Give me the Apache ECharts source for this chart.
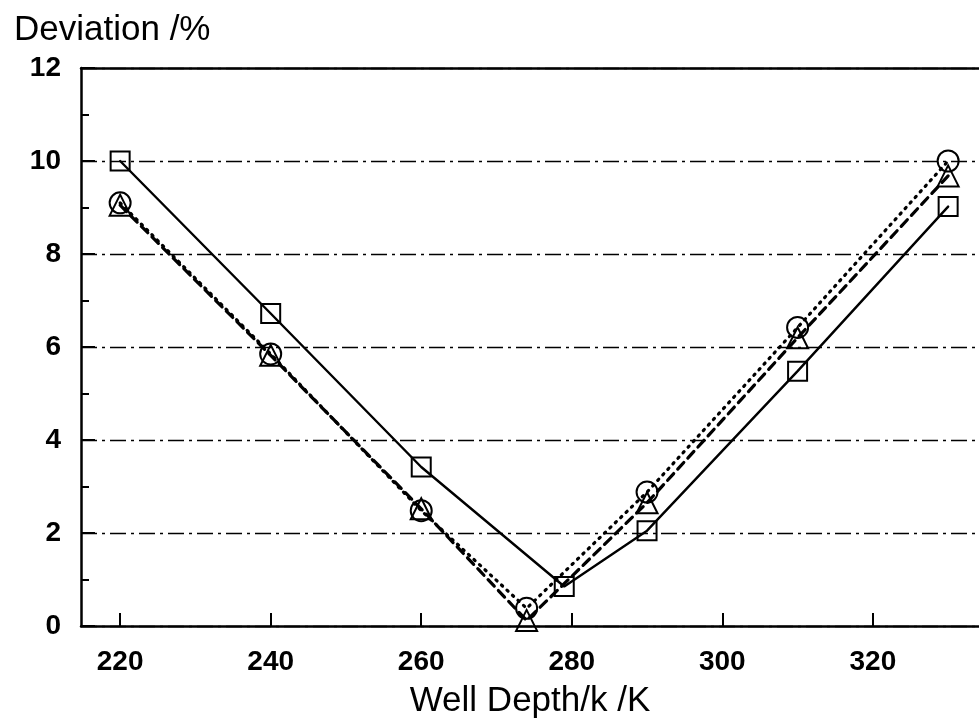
<!DOCTYPE html>
<html>
<head>
<meta charset="utf-8">
<script src="https://cdn.jsdelivr.net/npm/echarts@6/dist/echarts.min.js"></script>
<style>html,body{margin:0;padding:0;background:#fff;}#c{width:979px;height:724px;}</style>
</head>
<body>
<div id="c"></div>
<script>
var xTicks = [220, 240, 260, 280, 300, 320];
var squareX = [220, 240, 260, 279, 290, 310, 330];
var squareY = [10.0, 6.72, 3.42, 0.85, 2.05, 5.48, 9.02];
var circleX = [220, 240, 260, 274, 290, 310, 330];
var circleY = [9.1, 5.85, 2.48, 0.38, 2.88, 6.42, 10.0];
var triangleX = [220, 240, 260, 274, 290, 310, 330];
var triangleY = [9.05, 5.82, 2.52, 0.12, 2.65, 6.2, 9.68];

function pairs(xs, ys) { return xs.map(function (x, i) { return [x, ys[i]]; }); }

var font = '"Liberation Sans", Arial, Helvetica, sans-serif';
var chart = echarts.init(document.getElementById('c'), null, {renderer: 'canvas'});

function mk(name, xs, ys, sym, size, lineType, width) {
  return {
    name: name, type: 'line', data: pairs(xs, ys),
    symbol: sym, symbolSize: size,
    itemStyle: {color: 'rgba(0,0,0,0)', borderColor: '#000', borderWidth: 2},
    lineStyle: {color: '#000', width: width, type: lineType, cap: 'round'},
    emphasis: {disabled: true}, animation: false, z: 3
  };
}

chart.setOption({
  backgroundColor: '#fff',
  animation: false,
  title: {
    text: 'Deviation /%', left: 9, top: 8,
    textStyle: {fontFamily: font, fontSize: 35, fontWeight: 'normal', color: '#000'}
  },
  grid: {left: 81, top: 68, right: 0, bottom: 87, containLabel: false},
  xAxis: [{
    type: 'value', min: 214.8, max: 334.1, position: 'bottom',
    name: 'Well Depth/k /K', nameLocation: 'middle', nameGap: 58,
    nameTextStyle: {fontFamily: font, fontSize: 35, color: '#000'},
    axisLine: {show: true, lineStyle: {color: '#000', width: 2.5}},
    axisTick: {show: true, inside: true, length: 13, lineStyle: {color: '#000', width: 2}, customValues: xTicks},
    axisLabel: {fontFamily: font, fontSize: 28, fontWeight: 'bold', color: '#000', margin: 22, customValues: xTicks},
    splitLine: {show: false}
  }, {
    type: 'value', min: 214.8, max: 334.1, position: 'top',
    axisLine: {show: true, onZero: false, lineStyle: {color: '#000', width: 2.5}},
    axisTick: {show: false}, axisLabel: {show: false}, splitLine: {show: false}
  }],
  yAxis: {
    type: 'value', min: 0, max: 12, interval: 2,
    axisLine: {show: true, lineStyle: {color: '#000', width: 2.5}},
    axisTick: {show: true, inside: true, length: 14, lineStyle: {color: '#000', width: 2}},
    minorTick: {show: true, splitNumber: 2, length: 8, lineStyle: {color: '#000', width: 2}},
    axisLabel: {fontFamily: font, fontSize: 28, fontWeight: 'bold', color: '#000', margin: 20, padding: [8, 0, 0, 0]},
    splitLine: {show: true, lineStyle: {color: '#000', width: 1.3, type: [16, 5, 3, 5]}}
  },
  series: [
    mk('square', squareX, squareY, 'rect', 19, 'solid', 2.4),
    mk('circle', circleX, circleY, 'circle', 21, [1.5, 6], 3.2),
    mk('triangle', triangleX, triangleY, 'triangle', 21, [9, 6], 3.2)
  ]
});
</script>
</body>
</html>
